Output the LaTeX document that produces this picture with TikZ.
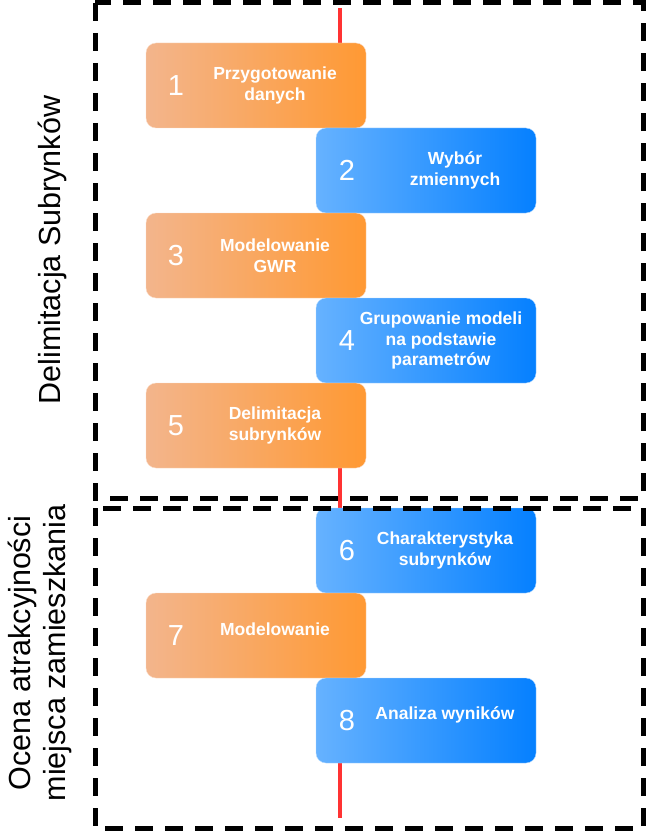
\documentclass[tikz,border=0pt]{standalone}
\usepackage{fontspec}
\setmainfont{Liberation Sans}
\usetikzlibrary{positioning}
\definecolor{orangeL}{RGB}{243,181,140}
\definecolor{orangeR}{RGB}{255,153,51}
\definecolor{blueL}{RGB}{102,178,255}
\definecolor{blueR}{RGB}{5,128,255}
\definecolor{lineRed}{RGB}{255,51,51}

\begin{document}
\begin{tikzpicture}[x=1pt,y=-1pt,
    box/.style={minimum width=220pt, minimum height=85pt, rounded corners=10pt, inner sep=0pt, outer sep=0pt},
    orangebox/.style={box, draw=orangeL!50!white, left color=orangeL, right color=orangeR},
    bluebox/.style={box, draw=blueL!50!white, left color=blueL, right color=blueR},
    num/.style={text=white, font=\fontsize{29}{30}\selectfont},
    txt/.style={text=white, align=center, font=\bfseries\fontsize{17.5}{20.5}\selectfont},
    frame/.style={dash pattern=on 18pt off 12pt, line width=5pt},
    phase/.style={rotate=90, align=center, font=\fontsize{30.5}{35}\selectfont}]
          \useasboundingbox (0,0) rectangle (648,832);
          \coordinate (top) at (340,8);
          \coordinate (bot) at (340,818);
          \draw[lineRed, line width=3.5pt] (top) -- (bot);

          \node[orangebox] (s1) at (256,85.5) {};
          \node[bluebox, below right=0pt and -50pt of s1] (s2) {};
          \node[orangebox, below left=0pt and -50pt of s2] (s3) {};
          \node[bluebox, below right=0pt and -50pt of s3] (s4) {};
          \node[orangebox, below left=0pt and -50pt of s4] (s5) {};
          \node[bluebox, below right=40pt and -50pt of s5] (s6) {};
          \node[orangebox, below left=0pt and -50pt of s6] (s7) {};
          \node[bluebox, below right=0pt and -50pt of s7] (s8) {};

          \node[num] (n1) at ([xshift=30pt]s1.west) {1};
          \node[num] (n2) at ([xshift=31pt]s2.west) {2};
          \node[num] (n3) at ([xshift=30pt]s3.west) {3};
          \node[num] (n4) at ([xshift=31pt]s4.west) {4};
          \node[num] (n5) at ([xshift=30pt]s5.west) {5};
          \node[num] (n6) at ([xshift=31pt]s6.west) {6};
          \node[num] (n7) at ([xshift=30pt]s7.west) {7};
          \node[num] (n8) at ([xshift=31pt]s8.west) {8};

          \node[txt] (t1) at ([xshift=129pt]s1.west) {Przygotowanie\\danych};
          \node[txt] (t2) at ([xshift=139pt]s2.west) {Wybór\\zmiennych};
          \node[txt] (t3) at ([xshift=129pt]s3.west) {Modelowanie\\GWR};
          \node[txt] (t4) at ([xshift=125pt]s4.west) {Grupowanie modeli\\na podstawie\\parametrów};
          \node[txt] (t5) at ([xshift=129pt]s5.west) {Delimitacja\\subrynków};
          \node[txt] (t6) at ([xshift=129pt]s6.west) {Charakterystyka\\subrynków};
          \node[txt] (t7) at ([xshift=129pt,yshift=6pt]s7.west) {Modelowanie};
          \node[txt] (t8) at ([xshift=129pt,yshift=6pt]s8.west) {Analiza wyników};

          % dashed frames of the two stages
          \draw[frame] (95,3) rectangle (643,498);
          \draw[frame] (95,508) rectangle (643,828);
          \node[phase] (p1) at (52,250) {Delimitacja Subrynków};
          \node[phase] (p2) at (40,653) {Ocena atrakcyjności\\miejsca zamieszkania};
        \end{tikzpicture}
\end{document}
